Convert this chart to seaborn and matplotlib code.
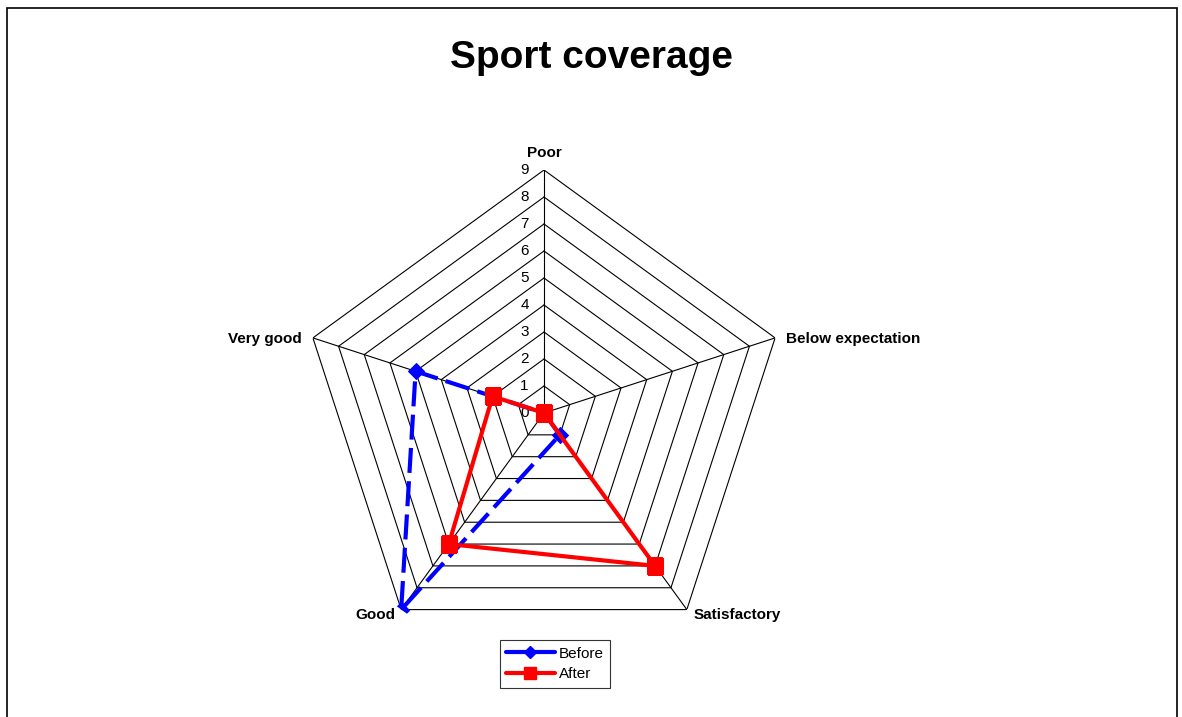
"""
Sport coverage - radar chart (before / after)
"""
import matplotlib
matplotlib.use("Agg")
import matplotlib.pyplot as plt
import numpy as np
import pandas as pd
import seaborn as sns
from matplotlib.patches import Rectangle

sns.set_theme(style="white")
plt.rcParams["font.family"] = ["Liberation Sans", "DejaVu Sans"]
plt.rcParams["text.color"] = "black"

# ── data ─────────────────────────────────────────────────────────────────────
categories = ["Poor", "Below expectation", "Satisfactory", "Good", "Very good"]
before = [0, 0, 1, 9, 5]
after = [0, 0, 7, 6, 2]
ticks = list(range(0, 10))

n = len(categories)
theta = np.linspace(0, 2 * np.pi, n, endpoint=False)
theta_closed = np.append(theta, theta[0])

W, H = 1182, 717
fig = plt.figure(figsize=(W / 100, H / 100), dpi=100)

# center (544, 413) px, radius 243 px
cx, cy, R = 544, 413, 243
ax = fig.add_axes([(cx - R) / W, (H - cy - R) / H, 2 * R / W, 2 * R / H],
                  projection="polar")
ax.set_theta_offset(np.pi / 2)
ax.set_theta_direction(-1)
ax.set_ylim(0, max(ticks))
ax.grid(False)
ax.spines["polar"].set_visible(False)
ax.set_xticks([]); ax.set_yticks([])
ax.patch.set_alpha(0)

# pentagon grid + spokes
for r in ticks[1:]:
    ax.plot(theta_closed, [r] * (n + 1), color="black", lw=0.8, zorder=1)
for t in theta:
    ax.plot([t, t], [0, max(ticks)], color="black", lw=0.8, zorder=1)

# tick labels along the Poor axis
for r in ticks:
    ax.annotate(str(r), xy=(0, r), xytext=(-11, 0), textcoords="offset points",
                ha="right", va="center", fontsize=11, color="black")

# category labels
label_pos = {
    "Poor": ((0, 7), "center", "bottom"),
    "Below expectation": ((8, -1), "left", "center"),
    "Satisfactory": ((5, -4), "left", "center"),
    "Good": ((-4, -4), "right", "center"),
    "Very good": ((-8, -1), "right", "center"),
}
for t, cat in zip(theta, categories):
    off, ha, va = label_pos[cat]
    ax.annotate(cat, xy=(t, max(ticks)), xytext=off, textcoords="offset points",
                ha=ha, va=va, fontsize=11, fontweight="bold", color="black")

# series
df = pd.DataFrame({
    "theta": np.concatenate([theta_closed, theta_closed]),
    "value": before + [before[0]] + after + [after[0]],
    "series": ["Before"] * (n + 1) + ["After"] * (n + 1),
})
sns.lineplot(data=df[df["series"] == "Before"], x="theta", y="value",
             sort=False, estimator=None, ax=ax, color="#0000FF", lw=3,
             linestyle=(0, (6, 2)), marker="D", markersize=8,
             markeredgecolor="#0000FF", label="Before", zorder=3, legend=False)
sns.lineplot(data=df[df["series"] == "After"], x="theta", y="value",
             sort=False, estimator=None, ax=ax, color="#FF0000", lw=3,
             marker="s", markersize=11, markeredgecolor="#FF0000",
             label="After", zorder=4, legend=False)
ax.set_xlabel(""); ax.set_ylabel("")

fig.suptitle("Sport coverage", fontsize=28, fontweight="bold", y=1 - 58 / H,
             va="center", color="black")

handles = [
    plt.Line2D([], [], color="#0000FF", lw=3, marker="D", markersize=6),
    plt.Line2D([], [], color="#FF0000", lw=3, marker="s", markersize=9),
]
leg = fig.legend(handles, ["Before", "After"], loc="center",
                 bbox_to_anchor=(555 / W, 1 - 664 / H), fontsize=11,
                 frameon=True, fancybox=False, edgecolor="black",
                 handlelength=3.2, handletextpad=0.3, borderpad=0.4,
                 labelspacing=0.45)
leg.get_frame().set_linewidth(0.8)
for txt in leg.get_texts():
    txt.set_color("black")

fig.patches.append(Rectangle((7 / W, -0.01), (1177 - 7) / W, 1.01 - 8.5 / H,
                             transform=fig.transFigure, fill=False,
                             edgecolor="black", lw=1.2))

plt.savefig("out.png", dpi=100)
plt.close()
